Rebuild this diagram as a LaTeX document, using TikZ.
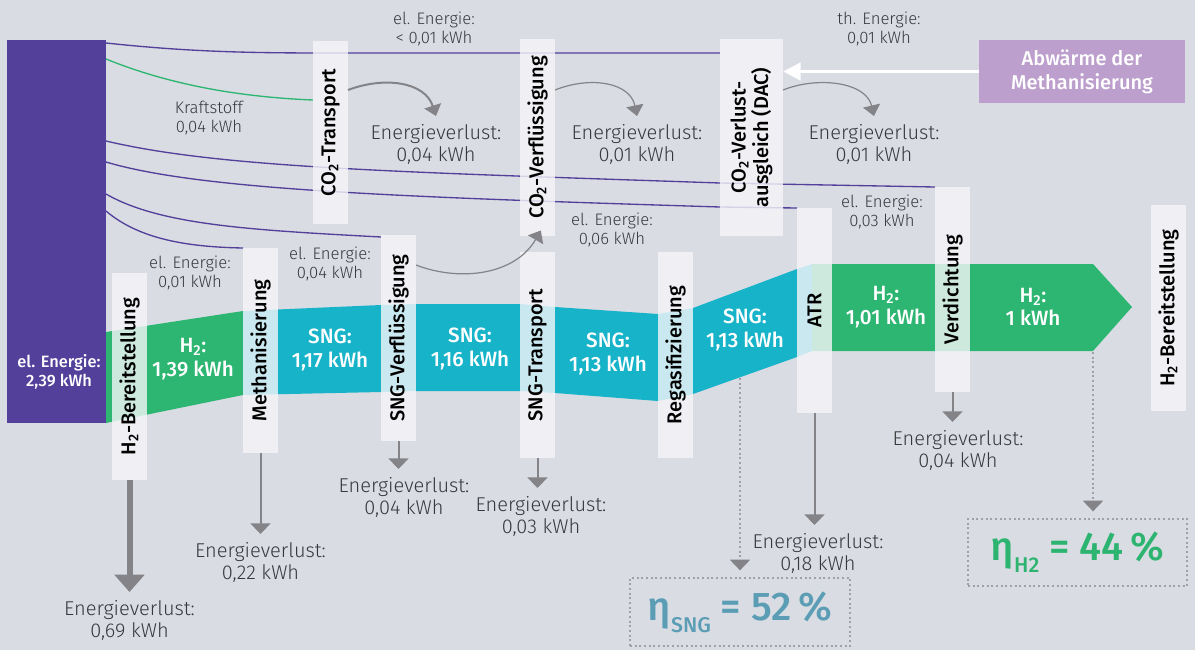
\documentclass[tikz,border=0pt]{standalone}
\usepackage{fontspec}
\setmainfont{Fira Sans}[UprightFont={* Light}, BoldFont={* Medium}]
\usetikzlibrary{arrows.meta}

\definecolor{bg}{HTML}{D9DCE3}
\definecolor{elpurple}{HTML}{52409A}
\definecolor{h2green}{HTML}{2DB672}
\definecolor{sngteal}{HTML}{17B3C9}
\definecolor{boxwhite}{HTML}{F6F6F9}
\definecolor{lossgray}{HTML}{838388}
\definecolor{txtgray}{HTML}{38383C}
\definecolor{heatlila}{HTML}{BC9FCC}
\definecolor{etasng}{HTML}{5A9DB4}
\definecolor{etah2}{HTML}{2DB470}
\definecolor{dotgray}{HTML}{A0A0A6}

\def \pxu {0.75pt}

\tikzset{
  srcblock/.style={fill=elpurple, inner sep=0pt, minimum width=99*\pxu, minimum height=383*\pxu},
  stage/.style={fill=boxwhite, fill opacity=0.8, text opacity=1, text=black, rotate=90,
    inner sep=0pt, minimum height=35*\pxu, align=center,
    font=\fontsize{15}{17}\selectfont\bfseries},
  flowlbl/.style={text=white, align=center, font=\fontsize{15.5}{17.5}\selectfont\bfseries},
  note/.style={text=txtgray, align=center, font=\fontsize{12.5}{14}\selectfont},
  lossnote/.style={text=txtgray, align=center, inner xsep=2pt, inner ysep=6pt,
    font=\fontsize{15}{16.5}\selectfont},
  elline/.style={elpurple, line width=1pt},
  fuelline/.style={h2green, line width=1pt},
  loss/.style={lossgray, line width=1.5pt, -{Triangle[width=15pt, length=8pt]}},
  bigloss/.style={lossgray, line width=4.5pt, -{Triangle[width=22pt, length=13pt]}},
  curveloss/.style={lossgray, line width=0.9pt, -{Triangle[width=13pt, length=8pt]}},
  dotloss/.style={dotgray, line width=1.5pt, dash pattern=on 1.5pt off 2pt,
    -{Triangle[width=15pt, length=8pt, color=lossgray]}},
  etabox/.style={draw=dotgray, line width=1.5pt, dash pattern=on 1.5pt off 2pt,
    inner sep=0pt, font=\fontsize{30}{32}\selectfont\bfseries},
  heatbox/.style={fill=heatlila, text=white, align=center, inner sep=0pt,
    minimum width=206*\pxu, minimum height=63*\pxu, font=\fontsize{15}{18}\selectfont\bfseries},
  heatarrow/.style={white, line width=2.5pt, -{Triangle[width=13pt, length=13pt]}}
}

\begin{document}
\begin{tikzpicture}[x=\pxu, y=-\pxu]
  % Hintergrund
  \fill[bg] (0,0) rectangle (1195,650);

  % Energiefluss
  \node[srcblock, anchor=north west] (src) at (7,40) {};
  \fill[h2green] (106,332) -- (243,311) -- (243,395) -- (106,423) -- cycle;
  \fill[sngteal] (243,311) -- (381,305) -- (416,304) -- (520,304) -- (555,307) -- (658,314)
    -- (693,308) -- (797,269) -- (812,264) -- (812,351) -- (797,357) -- (693,394)
    -- (658,401) -- (555,393) -- (520,391) -- (416,391) -- (381,392) -- (243,395) -- cycle;
  \fill[h2green] (812,264) -- (1093,264) -- (1132,307) -- (1093,351) -- (812,351) -- cycle;

  % Leitungen el. Energie / Kraftstoff
  \coordinate (s1) at (106,43);
  \coordinate (s2) at (106,59);
  \coordinate (s3) at (106,141);
  \coordinate (s4) at (106,162);
  \coordinate (s5) at (106,194);
  \coordinate (s6) at (106,211);
  \coordinate (t1) at (720,53);
  \coordinate (t2) at (313,100);
  \coordinate (t3) at (935,187);
  \coordinate (t4) at (797,208);
  \coordinate (t5) at (381,237);
  \coordinate (t6) at (243,248);
  \draw[elline] (s1) .. controls (190,52) and (250,53) .. (330,53) -- (t1);
  \draw[fuelline] (s2) .. controls (170,85) and (240,97) .. (t2);
  \draw[elline] (s3) .. controls (220,168) and (400,172) .. (720,183) -- (t3);
  \draw[elline] (s4) .. controls (200,190) and (400,197) .. (720,207) -- (t4);
  \draw[elline] (s5) .. controls (160,225) and (250,230) .. (t5);
  \draw[elline] (s6) .. controls (140,240) and (190,247) .. (t6);

  % Prozessschritte
  \node[stage, minimum width=207*\pxu] (h2a) at (129.5,376.5) {H\textsubscript{2}-Bereitstellung};
  \node[stage, minimum width=205*\pxu] (meth) at (260.5,350.5) {Methanisierung};
  \node[stage, minimum width=206*\pxu] (sngv) at (398.5,338) {SNG-Verflüssigung};
  \node[stage, minimum width=206*\pxu] (sngt) at (537.5,355) {SNG-Transport};
  \node[stage, minimum width=206*\pxu] (regas) at (675.5,355) {Regasifizierung};
  \node[stage, minimum width=205*\pxu] (atr) at (814.5,310.5) {ATR};
  \node[stage, minimum width=205*\pxu] (verd) at (952.5,289.5) {Verdichtung};
  \node[stage, minimum width=206*\pxu] (h2b) at (1168.5,308) {H\textsubscript{2}-Bereitstellung};
  \node[stage, minimum width=183*\pxu] (co2t) at (330.5,132.5) {CO\textsubscript{2}-Transport};
  \node[stage, minimum width=197*\pxu] (co2v) at (537.5,137.5) {CO\textsubscript{2}-Verflüssigung};
  \node[stage, minimum width=197*\pxu, minimum height=63*\pxu] (dac) at (751.5,137.5)
    {CO\textsubscript{2}-Verlust-\\ausgleich (DAC)};

  % Beschriftung Fluss
  \node[flowlbl, font=\fontsize{12.3}{14}\selectfont\bfseries] (lsrc) at (59,372) {el. Energie:\\2,39 kWh};
  \node[flowlbl] (lh2a) at (193,359) {H\textsubscript{2}:\\1,39 kWh};
  \node[flowlbl] (lsng1) at (330,350) {SNG:\\1,17 kWh};
  \node[flowlbl] (lsng2) at (470,349) {SNG:\\1,16 kWh};
  \node[flowlbl] (lsng3) at (608,354) {SNG:\\1,13 kWh};
  \node[flowlbl] (lsng4) at (745,330) {SNG:\\1,13 kWh};
  \node[flowlbl] (lh2b) at (886,307) {H\textsubscript{2}:\\1,01 kWh};
  \node[flowlbl] (lh2c) at (1033,307) {H\textsubscript{2}:\\1 kWh};

  % Hilfsenergie
  \node[note] (nel1) at (434,29) {el. Energie:\\< 0,01 kWh};
  \node[note] (nfuel) at (209,118) {Kraftstoff\\0,04 kWh};
  \node[note] (nth) at (879,29) {th. Energie:\\0,01 kWh};
  \node[note] (nel6) at (612,230) {el. Energie:\\0,06 kWh};
  \node[note] (nel3) at (882,212) {el. Energie:\\0,03 kWh};
  \node[note] (nel01) at (190,273) {el. Energie:\\0,01 kWh};
  \node[note] (nel4) at (330,264) {el. Energie:\\0,04 kWh};

  % Abwaerme
  \node[heatbox] (heat) at (1082,71.5) {Abwärme der\\Methanisierung};
  \draw[heatarrow] (heat.west) -- (dac.south |- heat.west);

  % Verluste
  \node[lossnote, anchor=north] (vco2t) at (436,116) {Energieverlust:\\0,04 kWh};
  \node[lossnote, anchor=north] (vco2v) at (637,116) {Energieverlust:\\0,01 kWh};
  \node[lossnote, anchor=north] (vdac) at (874,116) {Energieverlust:\\0,01 kWh};
  \node[lossnote, anchor=north] (vh2a) at (129.5,592) {Energieverlust:\\0,69 kWh};
  \node[lossnote, anchor=north] (vmeth) at (260.5,534) {Energieverlust:\\0,22 kWh};
  \node[lossnote, anchor=north] (vsngv) at (404,469) {Energieverlust:\\0,04 kWh};
  \node[lossnote, anchor=north] (vsngt) at (541,488) {Energieverlust:\\0,03 kWh};
  \node[lossnote, anchor=north] (vatr) at (818,525) {Energieverlust:\\0,18 kWh};
  \node[lossnote, anchor=north] (vverd) at (958,422) {Energieverlust:\\0,04 kWh};

  \coordinate (k1) at (348,90);
  \coordinate (k2) at (555,90);
  \coordinate (k3) at (783,90);
  \coordinate (k4) at (416,265);
  \draw[curveloss, line width=1.5pt] (k1) .. controls (385,76) and (425,82) .. (vco2t.north);
  \draw[curveloss] (k2) .. controls (590,76) and (630,82) .. (vco2v.north);
  \draw[curveloss] (k3) .. controls (818,76) and (866,82) .. (vdac.north);
  \draw[curveloss, shorten >=-5pt] (k4) .. controls (460,282) and (515,275) .. (co2v.west);

  \draw[bigloss] (h2a.west) -- (vh2a.north);
  \draw[loss] (meth.west) -- (vmeth.north);
  \draw[loss] (sngv.west) -- (sngv.west |- vsngv.north);
  \draw[loss] (sngt.west) -- (sngt.west |- vsngt.north);
  \draw[loss] (atr.west) -- (atr.west |- vatr.north);
  \draw[loss] (verd.west) -- (verd.west |- vverd.north);

  % Wirkungsgrade
  \node[etabox, minimum width=220*\pxu, minimum height=68*\pxu, text=etasng] (etasng) at (740,612)
    {η\raisebox{-0.3em}{\fontsize{16}{16}\selectfont SNG} = 52\,\%};
  \node[etabox, minimum width=219*\pxu, minimum height=67*\pxu, text=etah2] (etah2) at (1077.5,552.5)
    {η\raisebox{-0.3em}{\fontsize{16}{16}\selectfont H2} = 44\,\%};
  \coordinate (dsng) at (740,378);
  \coordinate (dh2) at (1093,352);
  \draw[dotloss, shorten >=5pt] (dsng) -- (etasng.north);
  \draw[dotloss, shorten >=5pt] (dh2) -- (dh2 |- etah2.north);
\end{tikzpicture}
\end{document}
